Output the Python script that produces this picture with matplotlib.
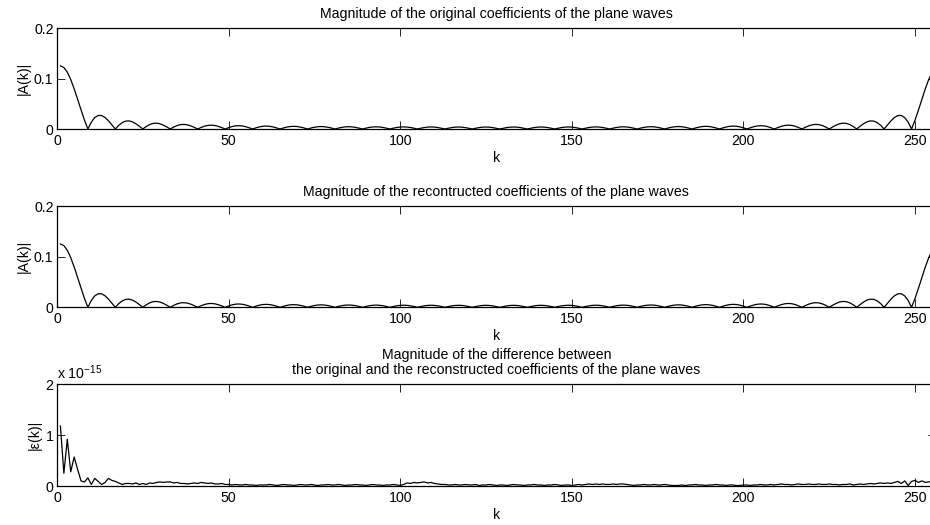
import numpy as np
import matplotlib
matplotlib.use("Agg")
import matplotlib.pyplot as plt

plt.rcParams['font.family'] = ['Liberation Sans', 'DejaVu Sans']
plt.rcParams['mathtext.fontset'] = 'custom'
plt.rcParams['mathtext.rm'] = 'Liberation Sans'
plt.rcParams['font.size'] = 10.2
plt.rcParams['axes.titlesize'] = 10.2

# |A(k)| of the original plane-wave coefficients, k = 1..256
orig_mag = [
    0.125, 0.12181, 0.11255, 0.09805, 0.07961, 0.05885, 0.03755, 0.01742,
    0, 0.01356, 0.02256, 0.02682, 0.02662, 0.02272, 0.01616, 0.00817,
    0, 0.00722, 0.01261, 0.01562, 0.01608, 0.01416, 0.01036, 0.00537,
    0, 0.00495, 0.00881, 0.01109, 0.01160, 0.01036, 0.00767, 0.00403,
    0, 0.00379, 0.00682, 0.00867, 0.00914, 0.00823, 0.00614, 0.00325,
    0, 0.00310, 0.00560, 0.00717, 0.00760, 0.00688, 0.00516, 0.00274,
    0, 0.00264, 0.00480, 0.00616, 0.00656, 0.00596, 0.00449, 0.00239,
    0, 0.00232, 0.00423, 0.00545, 0.00582, 0.00530, 0.00401, 0.00214,
    0, 0.00209, 0.00381, 0.00493, 0.00527, 0.00482, 0.00365, 0.00195,
    0, 0.00191, 0.00350, 0.00453, 0.00486, 0.00445, 0.00338, 0.00181,
    0, 0.00178, 0.00327, 0.00424, 0.00455, 0.00418, 0.00317, 0.00171,
    0, 0.00168, 0.00309, 0.00402, 0.00432, 0.00397, 0.00302, 0.00163,
    0, 0.00161, 0.00296, 0.00385, 0.00415, 0.00382, 0.00291, 0.00157,
    0, 0.00156, 0.00287, 0.00373, 0.00403, 0.00371, 0.00283, 0.00153,
    0, 0.00152, 0.00280, 0.00366, 0.00395, 0.00364, 0.00278, 0.00150,
    0, 0.00150, 0.00277, 0.00362, 0.00391, 0.00361, 0.00276, 0.00149,
    0, 0.00149, 0.00276, 0.00361, 0.00391, 0.00362, 0.00277, 0.00150,
    0, 0.00150, 0.00278, 0.00364, 0.00395, 0.00366, 0.00280, 0.00152,
    0, 0.00153, 0.00283, 0.00371, 0.00403, 0.00373, 0.00287, 0.00156,
    0, 0.00157, 0.00291, 0.00382, 0.00415, 0.00385, 0.00296, 0.00161,
    0, 0.00163, 0.00302, 0.00397, 0.00432, 0.00402, 0.00309, 0.00168,
    0, 0.00171, 0.00317, 0.00418, 0.00455, 0.00424, 0.00327, 0.00178,
    0, 0.00181, 0.00338, 0.00445, 0.00486, 0.00453, 0.00350, 0.00191,
    0, 0.00195, 0.00365, 0.00482, 0.00527, 0.00493, 0.00381, 0.00209,
    0, 0.00214, 0.00401, 0.00530, 0.00582, 0.00545, 0.00423, 0.00232,
    0, 0.00239, 0.00449, 0.00596, 0.00656, 0.00616, 0.00480, 0.00264,
    0, 0.00274, 0.00516, 0.00688, 0.00760, 0.00717, 0.00560, 0.00310,
    0, 0.00325, 0.00614, 0.00823, 0.00914, 0.00867, 0.00682, 0.00379,
    0, 0.00403, 0.00767, 0.01036, 0.01160, 0.01109, 0.00881, 0.00495,
    0, 0.00537, 0.01036, 0.01416, 0.01608, 0.01562, 0.01261, 0.00722,
    0, 0.00817, 0.01616, 0.02272, 0.02662, 0.02682, 0.02256, 0.01356,
    0, 0.01742, 0.03755, 0.05885, 0.07961, 0.09805, 0.11255, 0.12181,
]

# reconstructed coefficients: identical to the original at plot resolution
recon_mag = list(orig_mag)

# |eps(k)|, in units of 1e-15
err_e15 = [
    1.18, 0.25, 0.92, 0.28, 0.57, 0.33, 0.10, 0.08, 0.16, 0.03,
    0.15, 0.09, 0.03, 0.07, 0.15, 0.11, 0.09, 0.06, 0.03, 0.05,
    0.05, 0.04, 0.06, 0.03, 0.05, 0.03, 0.06, 0.05, 0.07, 0.08,
    0.07, 0.08, 0.08, 0.06, 0.07, 0.05, 0.05, 0.04, 0.05, 0.06,
    0.05, 0.07, 0.06, 0.05, 0.06, 0.04, 0.04, 0.05, 0.03, 0.03,
    0.02, 0.03, 0.02, 0.02, 0.03, 0.02, 0.02, 0.01, 0.02, 0.02,
    0.02, 0.03, 0.02, 0.01, 0.02, 0.03, 0.02, 0.02, 0.01, 0.02,
    0.03, 0.02, 0.02, 0.03, 0.02, 0.01, 0.02, 0.02, 0.03, 0.02,
    0.02, 0.03, 0.02, 0.01, 0.02, 0.02, 0.03, 0.02, 0.02, 0.01,
    0.02, 0.03, 0.02, 0.02, 0.01, 0.02, 0.02, 0.03, 0.02, 0.01,
    0.03, 0.06, 0.05, 0.07, 0.06, 0.07, 0.08, 0.06, 0.07, 0.05,
    0.04, 0.03, 0.03, 0.02, 0.02, 0.03, 0.02, 0.02, 0.03, 0.02,
    0.02, 0.03, 0.01, 0.02, 0.02, 0.03, 0.02, 0.01, 0.02, 0.02,
    0.01, 0.02, 0.03, 0.02, 0.02, 0.01, 0.02, 0.02, 0.03, 0.02,
    0.02, 0.01, 0.02, 0.02, 0.03, 0.02, 0.01, 0.02, 0.02, 0.01,
    0.02, 0.03, 0.02, 0.03, 0.04, 0.03, 0.04, 0.03, 0.04, 0.03,
    0.03, 0.04, 0.03, 0.04, 0.04, 0.03, 0.02, 0.01, 0.02, 0.02,
    0.03, 0.02, 0.02, 0.03, 0.02, 0.02, 0.03, 0.02, 0.01, 0.01,
    0.01, 0.02, 0.01, 0.02, 0.02, 0.03, 0.02, 0.02, 0.01, 0.02,
    0.02, 0.03, 0.02, 0.02, 0.01, 0.02, 0.02, 0.01, 0.01, 0.02,
    0.02, 0.01, 0.02, 0.02, 0.03, 0.02, 0.02, 0.03, 0.02, 0.03,
    0.04, 0.03, 0.03, 0.02, 0.03, 0.04, 0.03, 0.03, 0.04, 0.03,
    0.03, 0.04, 0.03, 0.03, 0.04, 0.03, 0.03, 0.02, 0.03, 0.03,
    0.04, 0.02, 0.03, 0.04, 0.03, 0.04, 0.05, 0.04, 0.05, 0.06,
    0.05, 0.06, 0.05, 0.07, 0.09, 0.05, 0.10, 0.01, 0.09, 0.11,
    0.07, 0.10, 0.07, 0.08, 0.09, 0.10,
]

k = np.arange(1, len(orig_mag) + 1)

titles = [
    "Magnitude of the original coefficients of the plane waves",
    "Magnitude of the recontructed coefficients of the plane waves",
    "Magnitude of the difference between\nthe original and the reconstructed coefficients of the plane waves",
]
ylabels = ["|A(k)|", "|A(k)|", "|ε(k)|"]
series = [orig_mag, recon_mag, err_e15]
yticks = [[0, 0.1, 0.2], [0, 0.1, 0.2], [0, 1, 2]]
yticklabels = [["0", "0.1", "0.2"], ["0", "0.1", "0.2"], ["0", "1", "2"]]

fig = plt.figure(figsize=(9.3, 5.25), dpi=100)
W, H = 930.0, 525.0
# axes boxes in pixels: (top, bottom); right edge runs past the figure
boxes = [(28, 129), (206, 307.3), (384.3, 486)]
left_px, right_px = 57, 935.6

for i, (top, bot) in enumerate(boxes):
    ax = fig.add_axes([left_px / W, 1 - bot / H, (right_px - left_px) / W, (bot - top) / H])
    ax.plot(k, series[i], color='black', lw=0.9)
    ax.set_xlim(0, 256)
    ax.set_ylim(yticks[i][0], yticks[i][-1])
    ax.set_xticks([0, 50, 100, 150, 200, 250])
    ax.set_yticks(yticks[i])
    ax.set_yticklabels(yticklabels[i])
    ax.tick_params(direction='in', top=True, right=True, length=5.8, width=0.6,
                   colors='black')
    ax.tick_params(axis='x', pad=3.5)
    ax.tick_params(axis='y', pad=2.5)
    for s in ax.spines.values():
        s.set_linewidth(0.9)
    ax.set_xlabel("k", labelpad=2)
    ax.set_ylabel(ylabels[i], labelpad=2.5)
    ax.set_title(titles[i], pad=7.5, linespacing=1.1)
    if i == 2:
        ax.annotate(r"x 10$^{\mathregular{-15}}$", xy=(0, 1), xycoords='axes fraction',
                    xytext=(0, 2), textcoords='offset points', ha='left', va='bottom')

fig.savefig("out.png", dpi=100)
